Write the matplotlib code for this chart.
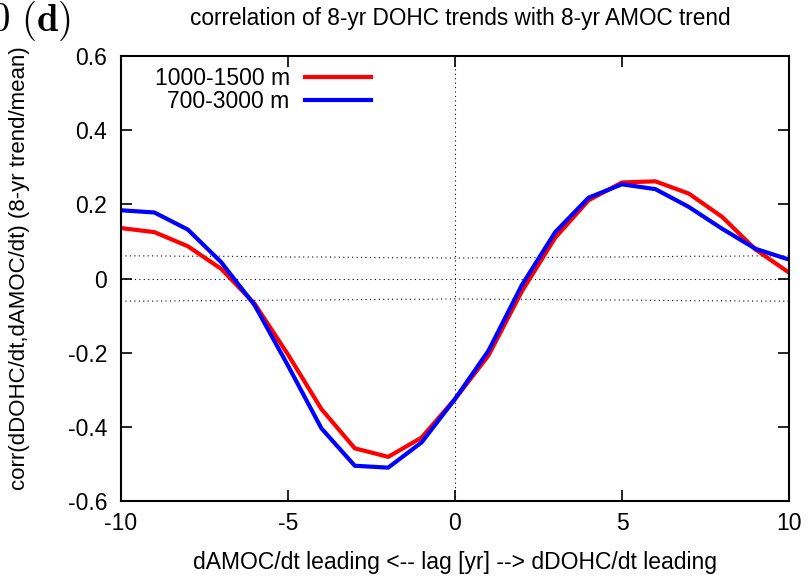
import numpy as np
import matplotlib.pyplot as plt

plt.rcParams['font.family'] = ['Liberation Sans', 'DejaVu Sans']
plt.rcParams['mathtext.fontset'] = 'cm'

# lag in years (negative: dAMOC/dt leads)
lag = np.arange(-10, 11)

corr_1000_1500 = [0.136, 0.125, 0.087, 0.026, -0.068, -0.205, -0.352, -0.458, -0.481, -0.429,
                  -0.325, -0.208, -0.035, 0.110, 0.211, 0.259, 0.262, 0.229, 0.166, 0.078, 0.016]
corr_700_3000 = [0.184, 0.178, 0.132, 0.044, -0.072, -0.235, -0.404, -0.505, -0.510, -0.442,
                 -0.325, -0.195, -0.018, 0.125, 0.218, 0.254, 0.241, 0.193, 0.134, 0.080, 0.051]

# 95% significance level for each lag
sig_level = [0.061, 0.061, 0.060, 0.060, 0.059, 0.058, 0.058, 0.057, 0.056, 0.056, 0.055,
             0.056, 0.056, 0.057, 0.058, 0.058, 0.059, 0.060, 0.060, 0.061, 0.061]

xticks = [-10, -5, 0, 5, 10]
yticks = [-0.6, -0.4, -0.2, 0, 0.2, 0.4, 0.6]
yticklabels = ['-0.6', '-0.4', '-0.2', '0', '0.2', '0.4', '0.6']

W, H = 812, 576
fig = plt.figure(figsize=(W / 100, H / 100), dpi=100)
ax = fig.add_axes([121 / W, 1 - 501 / H, 668 / W, 445 / H])

dots = dict(color='black', lw=0.8, ls=(0, (1, 3)))
ax.axhline(0, **dots)
ax.axvline(0, **dots)
ax.plot(lag, sig_level, **dots)
ax.plot(lag, -np.array(sig_level), **dots)

ax.plot(lag, corr_1000_1500, color='#ff0000', lw=3, label='1000-1500 m')
ax.plot(lag, corr_700_3000, color='#0000ff', lw=3, label='700-3000 m')

ax.set_xlim(-10, 10)
ax.set_ylim(-0.6, 0.6)
ax.set_xticks(xticks)
ax.set_xticklabels([str(t) for t in xticks])
ax.set_yticks(yticks)
ax.set_yticklabels(yticklabels)
ax.tick_params(direction='in', top=True, right=True, length=8, width=1.2,
               labelsize=16.5, pad=8)
ax.tick_params(axis='y', pad=10)
for s in ax.spines.values():
    s.set_linewidth(1.5)

ax.legend(loc='upper right', bbox_to_anchor=(371 / W, 1 - 67 / H),
          bbox_transform=fig.transFigure, frameon=False, fontsize=16.5,
          markerfirst=False, handlelength=2.9, handletextpad=0.65, labelspacing=0.0,
          borderpad=0, borderaxespad=0)

fig.text(455 / W, 1 - 562 / H, 'dAMOC/dt leading <-- lag [yr] --> dDOHC/dt leading',
         fontsize=16.5, ha='center', va='center')
fig.text(20 / W, 1 - 268 / H, 'corr(dDOHC/dt,dAMOC/dt) (8-yr trend/mean)',
         fontsize=16, rotation=90, ha='center', va='center')
fig.text(460 / W, 1 - 18 / H, 'correlation of 8-yr DOHC trends with 8-yr AMOC trend',
         fontsize=16.3, ha='center', va='center')

fig.text(-10 / W, 1 - 21 / H, r'$0$', fontsize=28, ha='left', va='center')
fig.text(21 / W, 1 - 21 / H, r'$\mathbf{(d)}$', fontsize=28, ha='left', va='center')

fig.savefig('out.png', dpi=100)
